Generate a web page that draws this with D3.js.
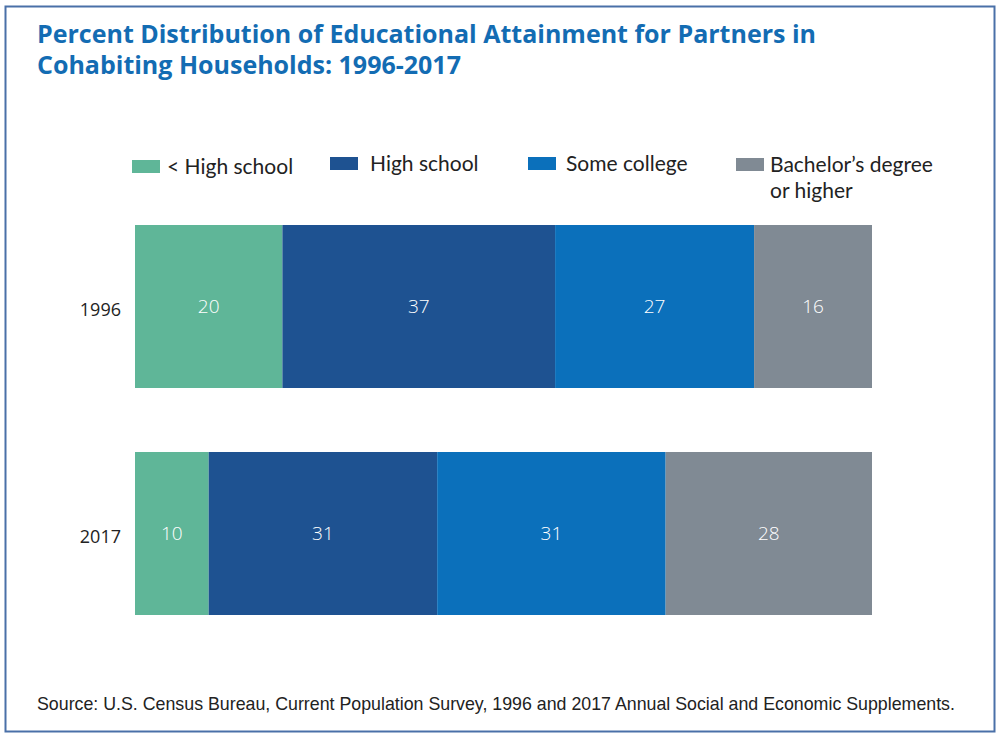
<!DOCTYPE html>
<html>
<head>
<meta charset="utf-8">
<script src="https://cdn.jsdelivr.net/npm/d3@7"></script>
<style>
  body { margin: 0; background: #fff; }
</style>
</head>
<body>
<div id="chart"></div>
<script>
// data
var years = ["1996", "2017"];
var categories = ["< High school", "High school", "Some college", "Bachelor's degree or higher"];
var legendLines = [["< High school"], ["High school"], ["Some college"], ["Bachelor\u2019s degree", "or higher"]];
var values1996 = [20, 37, 27, 16];
var values2017 = [10, 31, 31, 28];
var colors = ["#5fb698", "#1e5291", "#0b70bb", "#808a94"];

var W = 1000, H = 738;
var svg = d3.select("#chart").append("svg")
    .attr("width", W)
    .attr("height", H);

// frame
svg.append("rect")
    .attr("x", 5.5).attr("y", 6.5)
    .attr("width", 989).attr("height", 725)
    .attr("fill", "none")
    .attr("stroke", "#4a70a8")
    .attr("stroke-width", 2);

// title
var title = svg.append("text")
    .attr("font-family", "'Open Sans', sans-serif")
    .attr("font-weight", 700)
    .attr("font-size", 25)
    .attr("fill", "#136cb3");
title.append("tspan").attr("x", 37).attr("y", 43)
    .text("Percent Distribution of Educational Attainment for Partners in");
title.append("tspan").attr("x", 37).attr("y", 74)
    .text("Cohabiting Households: 1996-2017");

// scales
var x = d3.scaleLinear().domain([0, 100]).range([135, 872]);
var y = d3.scaleBand().domain(years).range([225, 615]).paddingInner(0.282);

var rows = [values1996, values2017].map(function (vals, i) {
    var start = 0;
    return vals.map(function (v, j) {
        var d = { year: years[i], cat: categories[j], value: v, x0: start, x1: start + v, idx: j };
        start += v;
        return d;
    });
});

var g = svg.append("g");
rows.forEach(function (row) {
    g.selectAll(null)
        .data(row)
        .enter()
        .append("rect")
        .attr("x", function (d) { return x(d.x0); })
        .attr("y", function (d) { return y(d.year); })
        .attr("width", function (d) { return x(d.x1) - x(d.x0); })
        .attr("height", y.bandwidth())
        .attr("fill", function (d) { return colors[d.idx]; });

    g.selectAll(null)
        .data(row)
        .enter()
        .append("text")
        .attr("x", function (d) { return (x(d.x0) + x(d.x1)) / 2; })
        .attr("y", function (d) { return y(d.year) + y.bandwidth() / 2; })
        .attr("dy", "0.35em")
        .attr("text-anchor", "middle")
        .attr("font-family", "'Open Sans', sans-serif")
        .attr("font-weight", 300)
        .attr("font-size", 19)
        .attr("fill", "#fff")
        .text(function (d) { return d.value; });
});

// year labels
svg.append("g")
    .selectAll("text")
    .data(years)
    .enter()
    .append("text")
    .attr("x", 121)
    .attr("y", function (d) { return y(d) + y.bandwidth() / 2 + 3; })
    .attr("dy", "0.35em")
    .attr("text-anchor", "end")
    .attr("font-family", "'Open Sans', sans-serif")
    .attr("font-size", 18)
    .attr("fill", "#222")
    .text(function (d) { return d; });

// legend
var legendX = [132, 330, 528, 736];
var legendY = [160, 157, 157, 158];
var textOff = [35, 40, 38, 34];
var legend = svg.append("g")
    .selectAll("g")
    .data(categories)
    .enter()
    .append("g")
    .attr("transform", function (d, i) { return "translate(" + legendX[i] + "," + legendY[i] + ")"; });

legend.append("rect")
    .attr("width", 28)
    .attr("height", 13)
    .attr("fill", function (d, i) { return colors[i]; });

// one text per line so the two lines of the last entry stay apart
legend.each(function (d, i) {
    var grp = d3.select(this);
    legendLines[i].forEach(function (line, k) {
        grp.append("text")
            .attr("x", textOff[i])
            .attr("y", 14 + k * 25.5)
            .attr("font-family", "Lato, sans-serif")
            .attr("font-size", 21)
            .attr("fill", "#222")
            .text(line);
    });
});

// source
svg.append("text")
    .attr("x", 37)
    .attr("y", 710)
    .attr("font-family", "'Liberation Sans', sans-serif")
    .attr("font-size", 17.8)
    .attr("fill", "#222")
    .text("Source: U.S. Census Bureau, Current Population Survey, 1996 and 2017 Annual Social and Economic Supplements.");
</script>
</body>
</html>
